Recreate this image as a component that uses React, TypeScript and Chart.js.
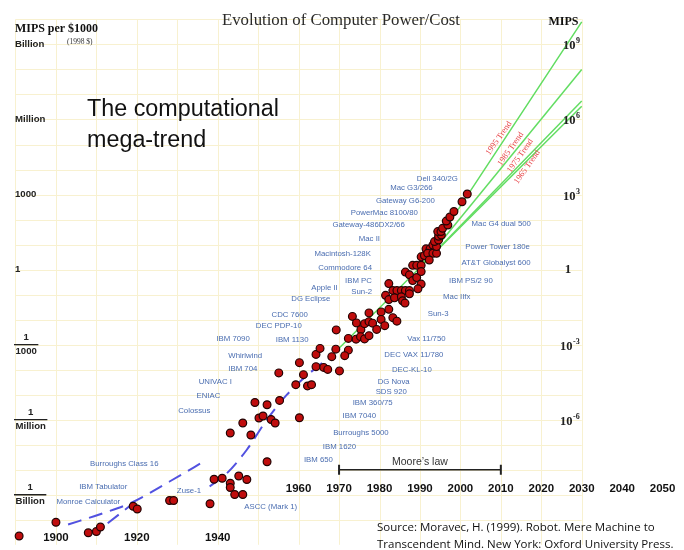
import React, { useEffect, useRef } from "react";
import { Chart, registerables } from "chart.js";

Chart.register(...registerables);

// ---- Data: year and log10(MIPS per $1000) of each machine ----
const pointYears = [
  1890.9, 1900.0, 1908.0, 1910.0, 1911.0, 1919.1, 1920.1, 1928.1, 1929.1, 1938.1,
  1939.1, 1941.1, 1943.1, 1943.1, 1944.2, 1945.2, 1946.2, 1947.2, 1943.1, 1946.2,
  1948.2, 1949.2, 1950.2, 1951.2, 1952.2, 1952.2, 1953.2, 1954.2, 1955.1, 1955.3,
  1959.3, 1960.2, 1960.2, 1961.2, 1962.2, 1963.2, 1964.3, 1964.3, 1965.3, 1966.2,
  1967.2, 1968.2, 1969.3, 1969.2, 1970.1, 1972.3, 1972.3, 1971.4, 1973.3, 1974.3,
  1974.2, 1975.4, 1975.3, 1976.3, 1976.3, 1977.4, 1977.4, 1977.4, 1978.3, 1979.3,
  1980.4, 1980.4, 1981.3, 1981.5, 1982.3, 1982.3, 1982.3, 1983.3, 1984.3, 1985.4,
  1986.4, 1987.4, 1983.7, 1985.4, 1985.7, 1986.3, 1983.3, 1984.3, 1986.4, 1987.4,
  1988.2, 1989.2, 1990.3, 1988.2, 1989.2, 1990.3, 1990.3, 1989.5, 1987.4, 1990.3,
  1991.1, 1991.5, 1992.5, 1993.6, 1991.9, 1993.2, 1994.1, 1992.3, 1993.2, 1994.1,
  1993.6, 1994.6, 1994.6, 1995.3, 1994.4, 1995.2, 1995.6, 1996.9, 1996.5, 1997.4,
  1998.4, 2000.4, 2001.7,
];
const pointLogs = [
  -10.65, -10.10, -10.52, -10.47, -10.29, -9.46, -9.57, -9.23, -9.23, -9.36,
  -8.38, -8.34, -8.54, -8.71, -8.99, -8.25, -8.99, -8.39, -6.53, -6.13,
  -6.61, -5.31, -5.93, -5.85, -5.40, -7.68, -5.99, -6.13, -4.13, -5.23,
  -4.60, -3.72, -5.92, -4.20, -4.65, -4.60, -3.39, -3.88, -3.15, -3.91,
  -3.99, -3.48, -2.41, -3.18, -4.05, -2.75, -3.22, -3.44, -1.87, -2.13,
  -2.78, -2.40, -2.68, -2.16, -2.77, -1.73, -2.08, -2.64, -2.14, -2.39,
  -1.69, -1.99, -2.24, -1.03, -0.56, -1.20, -1.59, -0.84, -0.84, -0.84,
  -0.84, -0.84, -1.13, -1.09, -1.25, -1.34, -1.92, -2.06, -0.10, -0.21,
  0.17, 0.17, 0.17, -0.44, -0.32, -0.08, -0.58, -0.77, -0.97, 0.51,
  0.56, 0.83, 0.83, 0.83, 0.65, 0.65, 0.65, 0.38, 0.98, 0.92,
  1.12, 1.18, 1.33, 1.38, 1.52, 1.52, 1.65, 1.78, 1.94, 2.10,
  2.32, 2.71, 3.02,
];

// Dashed fitted curves
const earlyFitAYears = [1903.0, 1911.6, 1918.8, 1928.1, 1937.3];
const earlyFitALogs = [-10.19, -9.74, -9.31, -8.47, -7.6];
const earlyFitBYears = [1912.8, 1918.8];
const earlyFitBLogs = [-10.14, -9.38];
const mainFitYears = [1938.0, 1942.2, 1947.2, 1952.1, 1957.0, 1964.4, 1967.7];
const mainFitLogs = [-8.67, -8.15, -7.2, -6.01, -5.02, -3.91, -3.51];

// Trend lines
const trend1965Years = [1967.7, 2030];
const trend1965Logs = [-3.51, 6.53];
const trend1975Years = [1990, 2030];
const trend1975Logs = [0.08, 6.74];
const trend1985Years = [1990, 2030];
const trend1985Logs = [0.08, 8.0];
const trend1995Years = [1990, 2030];
const trend1995Logs = [0.08, 9.9];
const trendNames = ["1995 Trend", "1985 Trend", "1975 Trend", "1965 Trend"];
const trendLabelYears = [2009.5, 2012.4, 2014.8, 2016.5];
const trendLabelLogs = [5.25, 4.82, 4.55, 4.1];

// Moore's law span
const mooreYears = [1970, 2010];
const mooreLog = -8;

// Machine labels
const machineNames = [
  "Dell 340/2G", "Mac G3/266", "Gateway G6-200", "PowerMac 8100/80", "Gateway-486DX2/66",
  "Mac II", "Macintosh-128K", "Commodore 64", "IBM PC", "Sun-2", "Apple II", "DG Eclipse",
  "CDC 7600", "DEC PDP-10", "IBM 7090", "IBM 1130", "Whirlwind", "IBM 704", "UNIVAC I",
  "ENIAC", "Colossus", "Burroughs Class 16", "IBM Tabulator", "Monroe Calculator", "Zuse-1",
  "ASCC (Mark 1)", "IBM 650", "IBM 1620", "Burroughs 5000", "IBM 7040", "IBM 360/75",
  "SDS 920", "DG Nova", "DEC-KL-10", "DEC VAX 11/780", "Vax 11/750", "Sun-3", "Mac IIfx",
  "IBM PS/2 90", "AT&T Globalyst 600", "Power Tower 180e", "Mac G4 dual 500",
];
const machineYears = [
  1994.3, 1987.9, 1986.4, 1981.2, 1977.3,
  1977.5, 1970.9, 1971.5, 1974.8, 1975.6, 1966.4, 1963.0,
  1957.8, 1955.1, 1943.8, 1958.4, 1946.8, 1946.2, 1939.4,
  1937.7, 1934.2, 1916.9, 1911.7, 1908.0, 1932.9,
  1953.1, 1964.9, 1970.1, 1975.4, 1975.0, 1978.3,
  1982.9, 1983.5, 1988.0, 1988.5, 1991.6, 1994.5, 1999.1,
  2002.6, 2008.8, 2009.2, 2010.1,
];
const machineLogs = [
  3.63, 3.26, 2.75, 2.28, 1.79,
  1.21, 0.63, 0.06, -0.45, -0.89, -0.73, -1.17,
  -1.8, -2.24, -2.78, -2.8, -3.45, -3.95, -4.47,
  -5.06, -5.65, -7.75, -8.67, -9.27, -8.83,
  -9.5, -7.59, -7.07, -6.53, -5.83, -5.33,
  -4.88, -4.47, -4.0, -3.4, -2.76, -1.77, -1.09,
  -0.45, 0.25, 0.92, 1.81,
];

// Axis tick labels
const upperYearTicks = [1960, 1970, 1980, 1990, 2000, 2010, 2020, 2030, 2040, 2050];
const lowerYearTicks = [1900, 1920, 1940];
const upperTickLog = -8.75;
const lowerTickLog = -10.73;
const leftAxisExps = [9, 6, 3, 0, -3, -6, -9];
const leftAxisNames = ["Billion", "Million", "1000", "1", "1000", "Million", "Billion"];
const rightAxisExps = [9, 6, 3, 0, -3, -6];

const gridYearStart = 1890;
const gridYearEnd = 2030;
const gridLogTop = 10;
const gridLogBottom = -10;

const SANS = '"Liberation Sans", Arial, Helvetica, sans-serif';
const SERIF = '"Liberation Serif", "Times New Roman", serif';
const SOURCE_FONT = '"Open Sans", "Noto Sans", sans-serif';

const toXY = (xs: number[], ys: number[]) => xs.map((x, i) => ({ x, y: ys[i] }));

function fitFont(ctx: CanvasRenderingContext2D, text: string, width: number, weight: string, family: string) {
  ctx.font = `${weight} 20px ${family}`;
  const w = ctx.measureText(text).width;
  const size = (20 * width) / w;
  return `${weight} ${size.toFixed(2)}px ${family}`;
}

const gridPlugin = {
  id: "moravecGrid",
  beforeDatasetsDraw(chart: any) {
    const { ctx } = chart;
    const xs = chart.scales.x;
    const ys = chart.scales.y;
    ctx.save();
    ctx.strokeStyle = "#f8f1d0";
    ctx.lineWidth = 1;
    const x0 = xs.getPixelForValue(gridYearStart);
    const x1 = xs.getPixelForValue(gridYearEnd);
    const yTop = ys.getPixelForValue(gridLogTop);
    const yBot = ys.getPixelForValue(ys.min);
    ctx.beginPath();
    for (let yr = gridYearStart; yr <= gridYearEnd; yr += 10) {
      const px = Math.round(xs.getPixelForValue(yr)) + 0.5;
      ctx.moveTo(px, yTop);
      ctx.lineTo(px, yBot);
    }
    for (let e = gridLogBottom; e <= gridLogTop; e++) {
      const py = Math.round(ys.getPixelForValue(e)) + 0.5;
      ctx.moveTo(x0, py);
      ctx.lineTo(x1, py);
    }
    ctx.stroke();
    ctx.restore();
  },
};

const textPlugin = {
  id: "moravecText",
  afterDatasetsDraw(chart: any) {
    const { ctx } = chart;
    const xs = chart.scales.x;
    const ys = chart.scales.y;
    ctx.save();

    // Title
    ctx.fillStyle = "#2a2a2a";
    ctx.textBaseline = "alphabetic";
    ctx.textAlign = "left";
    ctx.font = fitFont(ctx, "Evolution of Computer Power/Cost", 238, "normal", SERIF);
    ctx.fillText("Evolution of Computer Power/Cost", 222, 25);

    // Left header
    ctx.fillStyle = "#111";
    ctx.font = fitFont(ctx, "MIPS per $1000", 83, "bold", SERIF);
    ctx.fillText("MIPS per $1000", 15, 32);
    ctx.fillStyle = "#333";
    ctx.font = `normal 7.5px ${SERIF}`;
    ctx.textBaseline = "middle";
    ctx.fillText("(1998 $)", 67, 42.5);

    // Right header
    ctx.fillStyle = "#111";
    ctx.font = fitFont(ctx, "MIPS", 30, "bold", SERIF);
    ctx.fillText("MIPS", 548.5, 22);

    // Left axis labels
    ctx.fillStyle = "#222";
    ctx.strokeStyle = "#222";
    ctx.font = `bold 9.6px ${SANS}`;
    leftAxisExps.forEach((e, i) => {
      const py = ys.getPixelForValue(e);
      const name = leftAxisNames[i];
      if (e >= 0) {
        ctx.textAlign = "left";
        ctx.fillText(name, 15, py);
      } else {
        const w = ctx.measureText(name).width;
        ctx.textAlign = "left";
        ctx.fillText(name, 15.5, py + 7);
        ctx.lineWidth = 1.3;
        ctx.beginPath();
        ctx.moveTo(14, py);
        ctx.lineTo(17 + w, py);
        ctx.stroke();
        ctx.textAlign = "center";
        ctx.fillText("1", 15.5 + w / 2, py - 7.5);
      }
    });

    // Right axis labels
    ctx.fillStyle = "#222";
    rightAxisExps.forEach((e) => {
      const py = ys.getPixelForValue(e);
      if (e === 0) {
        ctx.font = `bold 13px ${SERIF}`;
        ctx.textAlign = "center";
        ctx.textBaseline = "middle";
        ctx.fillText("1", 568, py);
      } else {
        ctx.font = `bold 12.5px ${SERIF}`;
        ctx.textAlign = "left";
        ctx.textBaseline = "alphabetic";
        const bx = e < 0 ? 560 : 563;
        ctx.fillText("10", bx, py + 5);
        const w = ctx.measureText("10").width;
        ctx.font = `bold 8px ${SERIF}`;
        ctx.fillText(String(e), bx + w + 0.5, py - 1);
      }
    });

    // Year tick labels
    ctx.fillStyle = "#111";
    ctx.font = `bold 11.5px ${SANS}`;
    ctx.textAlign = "center";
    ctx.textBaseline = "middle";
    upperYearTicks.forEach((yr) => {
      ctx.fillText(String(yr), xs.getPixelForValue(yr), ys.getPixelForValue(upperTickLog));
    });
    lowerYearTicks.forEach((yr) => {
      ctx.fillText(String(yr), xs.getPixelForValue(yr), ys.getPixelForValue(lowerTickLog));
    });

    // Machine labels
    ctx.fillStyle = "#4a6db0";
    ctx.font = `normal 7.8px ${SANS}`;
    machineNames.forEach((name, i) => {
      ctx.fillText(name, xs.getPixelForValue(machineYears[i]), ys.getPixelForValue(machineLogs[i]));
    });

    // Trend labels
    ctx.fillStyle = "#e8474b";
    ctx.font = `normal 8.5px ${SERIF}`;
    trendNames.forEach((name, i) => {
      ctx.save();
      ctx.translate(xs.getPixelForValue(trendLabelYears[i]), ys.getPixelForValue(trendLabelLogs[i]));
      ctx.rotate((-55 * Math.PI) / 180);
      ctx.fillText(name, 0, 0);
      ctx.restore();
    });

    // Moore's law end ticks and label
    const my = ys.getPixelForValue(mooreLog);
    ctx.strokeStyle = "#222";
    ctx.lineWidth = 2;
    ctx.beginPath();
    mooreYears.forEach((yr) => {
      const px = xs.getPixelForValue(yr);
      ctx.moveTo(px, my - 5);
      ctx.lineTo(px, my + 5);
    });
    ctx.stroke();
    ctx.fillStyle = "#333";
    ctx.font = `normal 10.5px ${SANS}`;
    ctx.fillText("Moore\u2019s law", xs.getPixelForValue((mooreYears[0] + mooreYears[1]) / 2), my - 7.5);

    // Big overlay text
    ctx.fillStyle = "#111";
    ctx.textAlign = "left";
    ctx.textBaseline = "alphabetic";
    ctx.font = fitFont(ctx, "The computational", 192, "normal", SANS);
    ctx.fillText("The computational", 87, 115.5);
    ctx.fillText("mega-trend", 87, 146.5);

    // Source
    ctx.fillStyle = "#111";
    ctx.textBaseline = "middle";
    ctx.font = fitFont(ctx, "Source: Moravec, H. (1999). Robot. Mere Machine to", 278, "normal", SOURCE_FONT);
    ctx.fillText("Source: Moravec, H. (1999). Robot. Mere Machine to", 377, 528);
    ctx.fillText("Transcendent Mind. New York: Oxford University Press.", 377, 545);

    ctx.restore();
  },
};

export default function App() {
  const ref = useRef<HTMLCanvasElement>(null);

  useEffect(() => {
    const canvas = ref.current;
    if (!canvas) return;
    const green = "#62dd62";
    const dashBlue = "#5252e0";
    const lineDs = (data: any[], color: string, width: number, dash: number[] = []) => ({
      type: "line" as const,
      data,
      showLine: true,
      borderColor: color,
      borderWidth: width,
      borderDash: dash,
      pointRadius: 0,
      fill: false,
      cubicInterpolationMode: "monotone" as const,
    });

    const chart = new Chart(canvas, {
      type: "scatter",
      data: {
        datasets: [
          {
            type: "scatter",
            data: toXY(pointYears, pointLogs),
            pointRadius: 3.9,
            pointBackgroundColor: "#c00d0d",
            pointBorderColor: "#220404",
            pointBorderWidth: 1.2,
          } as any,
          lineDs(toXY(trend1995Years, trend1995Logs), green, 1.5),
          lineDs(toXY(trend1985Years, trend1985Logs), green, 1.5),
          lineDs(toXY(trend1975Years, trend1975Logs), green, 1.5),
          lineDs(toXY(trend1965Years, trend1965Logs), green, 1.5),
          lineDs(toXY(mainFitYears, mainFitLogs), dashBlue, 2, [14, 8]),
          lineDs(toXY(earlyFitAYears, earlyFitALogs), dashBlue, 2, [14, 8]),
          lineDs(toXY(earlyFitBYears, earlyFitBLogs), dashBlue, 2, [14, 8]),
          lineDs(
            [
              { x: mooreYears[0], y: mooreLog },
              { x: mooreYears[1], y: mooreLog },
            ],
            "#222",
            1.6
          ),
        ] as any,
      },
      options: {
        responsive: false,
        animation: false,
        devicePixelRatio: 1,
        events: [],
        layout: { padding: { left: 7.4, right: 4.3, top: 6.9, bottom: 1.3 } },
        scales: {
          x: { type: "linear", min: 1888, max: 2054, display: false },
          y: { type: "linear", min: -11, max: 10.5, display: false },
        },
        plugins: {
          legend: { display: false },
          tooltip: { enabled: false },
          title: { display: false },
        },
      } as any,
      plugins: [gridPlugin, textPlugin],
    });
    return () => chart.destroy();
  }, []);

  return (
    <div style={{ position: "fixed", left: 0, top: 0, width: 684, height: 550, background: "#fff" }}>
      <canvas ref={ref} width={684} height={550} style={{ display: "block", width: 684, height: 550 }} />
    </div>
  );
}
